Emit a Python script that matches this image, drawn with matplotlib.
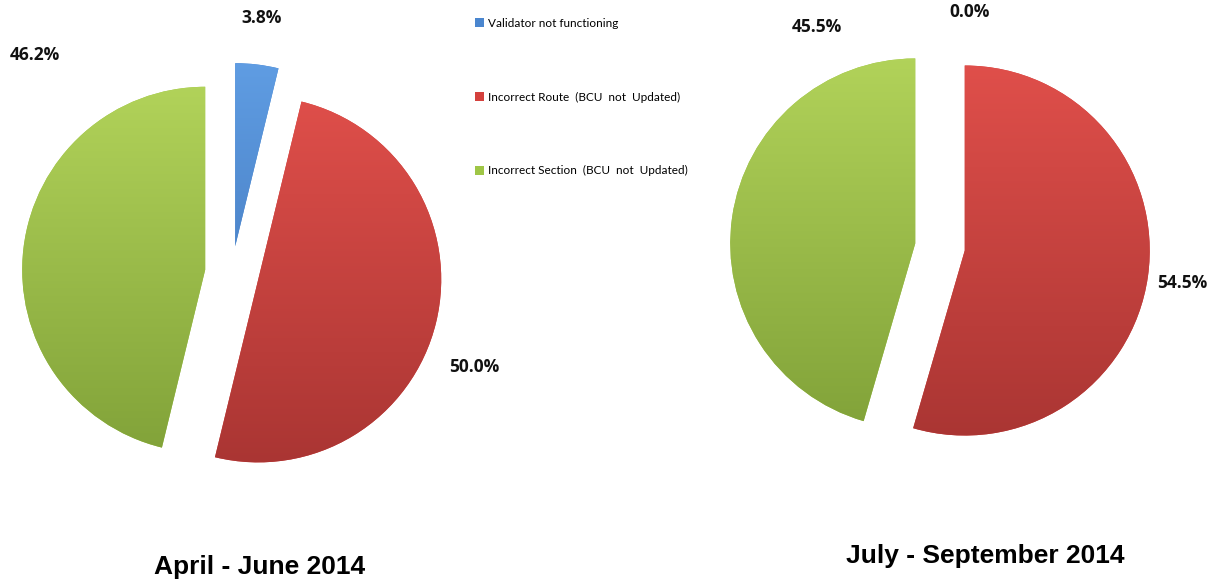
import numpy as np
import matplotlib.pyplot as plt
from matplotlib.colors import LinearSegmentedColormap

categories = ['Validator not functioning',
              'Incorrect Route  (BCU  not  Updated)',
              'Incorrect Section  (BCU  not  Updated)']
periods = ['April - June 2014', 'July - September 2014']
share_apr_jun = [3.8, 50.0, 46.2]
share_jul_sep = [0.0, 54.5, 45.5]

W, H = 1223, 588
fig = plt.figure(figsize=(W / 100, H / 100), dpi=100)
ax = fig.add_axes([0, 0, 1, 1])

base = ['#4a86cf', '#d4413d', '#9fc646']
light = ['#62a0e6', '#e8534e', '#b8d95e']
dark = ['#3466aa', '#a33230', '#7a9b34']

label_font = ['Open Sans', 'DejaVu Sans']
title_font = ['Liberation Sans Narrow', 'Liberation Sans', 'DejaVu Sans']

# centre, radius, explode offset, label spots, title spot (pixel units, y up)
layout = [
    dict(center=(232, 315), radius=183, explode=27,
         spots=[(262, 570), (474, 221), (35, 533)], title=(260, 21)),
    dict(center=(940, 341), radius=185, explode=25,
         spots=[(970, 576), (1182, 305), (817, 561)], title=(985, 32)),
]

grad = np.linspace(0, 1, 256).reshape(-1, 1)
legend_wedges = None
for shares, lay, period in zip([share_apr_jun, share_jul_sep], layout, periods):
    cx, cy = lay['center']
    r = lay['radius']
    wedges, _ = ax.pie(shares, colors=base, startangle=90, counterclock=False,
                       explode=[lay['explode']] * len(shares),
                       center=lay['center'], radius=r,
                       wedgeprops=dict(linewidth=0))
    for i, w in enumerate(wedges):
        cmap = LinearSegmentedColormap.from_list('g%d' % i, [dark[i], light[i]])
        im = ax.imshow(grad, cmap=cmap, origin='lower', aspect='auto',
                       extent=(cx - 1.4 * r, cx + 1.4 * r, cy - 1.3 * r, cy + 1.3 * r),
                       zorder=w.get_zorder() + 0.1)
        im.set_clip_path(w)
    if legend_wedges is None:
        legend_wedges = wedges
    for v, (tx, ty) in zip(shares, lay['spots']):
        ax.text(tx, ty, '%.1f%%' % v, ha='center', va='center', fontsize=12.5,
                fontweight='bold', family=label_font, color='#111111')
    ax.text(lay['title'][0], lay['title'][1], period, ha='center', va='center',
            fontsize=19, fontweight='bold', family=title_font, color='black')

ax.set_xlim(0, W)
ax.set_ylim(0, H)
ax.set_aspect('equal')
ax.axis('off')

fig.legend(legend_wedges, categories, loc='upper left',
           bbox_to_anchor=(475 / W, 1 - 18 / H), frameon=False,
           borderaxespad=0, borderpad=0, handlelength=0.8, handleheight=0.8,
           handletextpad=0.3, labelspacing=5.3,
           prop=dict(family=['Lato', 'DejaVu Sans'], size=8.5))

fig.savefig('out.png', dpi=100)
